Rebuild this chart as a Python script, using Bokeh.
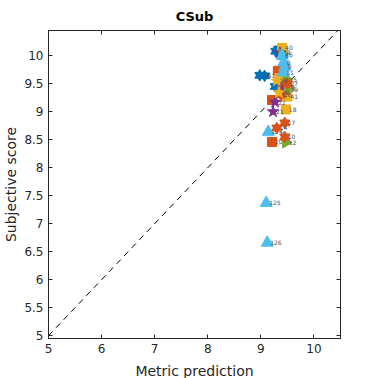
import math
from bokeh.plotting import figure
from bokeh.models import ColumnDataSource, LinearAxis, FixedTicker, Range1d
from bokeh.core.properties import value
from bokeh.embed import file_html
from bokeh.resources import INLINE

# ---- data (metric prediction, subjective score, label) per marker group ----
blue_hex_x = [9.28, 9.33, 9.40, 9.36, 8.98, 9.07, 9.27, 9.42, 9.46]
blue_hex_y = [10.08, 10.11, 10.06, 10.03, 9.65, 9.64, 9.45, 9.62, 9.52]
blue_hex_lab = ["1", "2", "3", "4", "63", "61", "55", "5", "7"]

lblue_tri_x = [9.43, 9.45, 9.42, 9.40, 9.14, 9.10, 9.12]
lblue_tri_y = [9.88, 9.80, 9.70, 10.00, 8.64, 7.37, 6.66]
lblue_tri_lab = ["8", "9", "11", "6", "124", "125", "126"]

orange_sq_x = [9.32, 9.21, 9.21, 9.40, 9.45]
orange_sq_y = [9.73, 9.21, 8.46, 9.50, 9.42]
orange_sq_lab = ["30", "13", "20", "32", "33"]

yellow_sq_x = [9.40, 9.50, 9.47, 9.35]
yellow_sq_y = [10.14, 9.27, 9.04, 9.60]
yellow_sq_lab = ["40", "41", "18", "42"]

purple_star_x = [9.27, 9.23, 9.36, 9.43]
purple_star_y = [9.17, 9.00, 10.05, 9.45]
purple_star_lab = ["22", "21", "23", "24"]

green_rtri_x = [9.47, 9.48, 9.40, 9.50]
green_rtri_y = [8.45, 9.58, 10.02, 9.40]
green_rtri_lab = ["12", "15", "16", "19"]

orange_hex_x = [9.45, 9.30, 9.45, 9.38, 9.50]
orange_hex_y = [8.80, 8.71, 8.55, 9.30, 9.50]
orange_hex_lab = ["17", "14", "10", "26", "27"]

yellow_star_x = [9.34, 9.30]
yellow_star_y = [9.34, 9.55]
yellow_star_lab = ["28", "29"]

diag = [5, 10.5]
x_ticks = [5, 6, 7, 8, 9, 10]
y_ticks = [5, 5.5, 6, 6.5, 7, 7.5, 8, 8.5, 9, 9.5, 10]

FONT = "DejaVu Sans"

p = figure(frame_width=292, frame_height=308, output_backend="svg", toolbar_location=None,
           x_range=Range1d(5, 10.5), y_range=Range1d(4.95, 10.45),
           min_border_left=48, min_border_right=16, min_border_top=0,
           min_border_bottom=42, title="CSub")
p.title.align = "center"
p.title.text_font = FONT
p.title.text_font_size = "13px"
p.title.text_font_style = "bold"
p.title.text_color = "black"
p.title.standoff = 13
p.grid.visible = False
p.outline_line_color = "#262626"
p.background_fill_color = "white"

for ax in (p.xaxis[0], p.yaxis[0]):
    ax.major_tick_in = 4
    ax.major_tick_out = 0
    ax.minor_tick_line_color = None
    ax.major_label_text_font = FONT
    ax.major_label_text_font_size = "12px"
    ax.major_label_text_color = "#262626"
    ax.axis_label_text_font = FONT
    ax.axis_label_text_font_size = "14px"
    ax.axis_label_text_font_style = "normal"
    ax.axis_label_text_color = "#262626"
    ax.axis_line_color = "#262626"
    ax.major_tick_line_color = "#262626"
    ax.major_label_standoff = 4
    ax.axis_label_standoff = 2
p.xaxis[0].ticker = FixedTicker(ticks=x_ticks)
p.yaxis[0].ticker = FixedTicker(ticks=y_ticks)
p.xaxis[0].axis_label = "Metric prediction"
p.xaxis[0].major_label_standoff = 5
p.xaxis[0].axis_label_standoff = 7
p.yaxis[0].axis_label = "Subjective score"
p.yaxis[0].major_label_standoff = 5

for loc, ticks in (("above", x_ticks), ("right", y_ticks)):
    a = LinearAxis(ticker=FixedTicker(ticks=ticks), major_tick_in=4, major_tick_out=0,
                   minor_tick_line_color=None, major_label_text_font_size="0px",
                   major_label_standoff=0, axis_line_color="#262626",
                   major_tick_line_color="#262626")
    p.add_layout(a, loc)

p.line(diag, diag, line_color="black", line_dash="6 5", line_width=1)

def add_group(xs, ys, labs, color, kind):
    src = ColumnDataSource(dict(x=xs, y=ys, lab=labs))
    if kind == "hexagram":
        p.scatter("x", "y", source=src, marker="triangle", size=10, fill_color=color,
                  line_color=color)
        p.scatter("x", "y", source=src, marker="inverted_triangle", size=10,
                  fill_color=color, line_color=color)
    elif kind == "rtri":
        p.scatter("x", "y", source=src, marker="triangle", angle=-math.pi / 2, size=11,
                  fill_color=color, line_color=color)
    elif kind == "triangle":
        p.scatter("x", "y", source=src, marker="triangle", size=12, fill_color=color,
                  line_color=color)
    elif kind == "square":
        p.scatter("x", "y", source=src, marker="square", size=9, fill_color=color,
                  line_color=color)
    elif kind == "star":
        p.scatter("x", "y", source=src, marker="star", size=12, fill_color=color,
                  line_color=color)
    p.text("x", "y", text="lab", source=src, x_offset=3, text_baseline="middle",
           text_font=value(FONT), text_font_size="6px", text_color="#505050")

add_group(blue_hex_x, blue_hex_y, blue_hex_lab, "#0072BD", "hexagram")
add_group(orange_sq_x, orange_sq_y, orange_sq_lab, "#D95319", "square")
add_group(yellow_sq_x, yellow_sq_y, yellow_sq_lab, "#EDB120", "square")
add_group(purple_star_x, purple_star_y, purple_star_lab, "#7E2F8E", "star")
add_group(green_rtri_x, green_rtri_y, green_rtri_lab, "#77AC30", "rtri")
add_group(lblue_tri_x, lblue_tri_y, lblue_tri_lab, "#4DBEEE", "triangle")
add_group(orange_hex_x, orange_hex_y, orange_hex_lab, "#D95319", "hexagram")
add_group(yellow_star_x, yellow_star_y, yellow_star_lab, "#EDB120", "star")

open("out.html", "w").write(file_html(p, INLINE))
